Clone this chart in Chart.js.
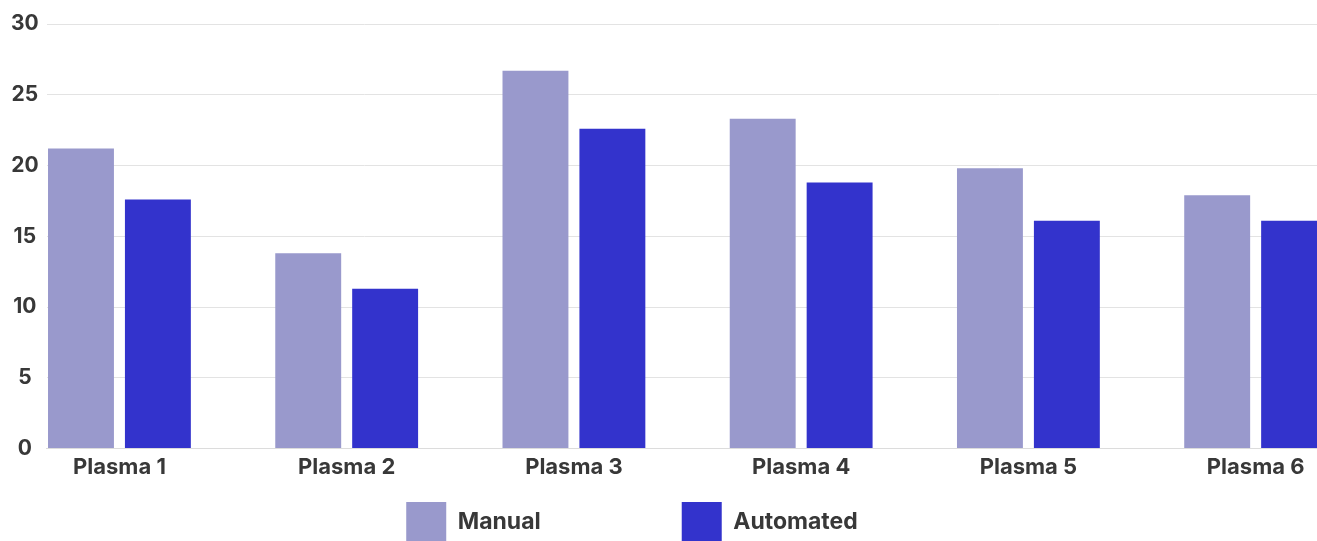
<!DOCTYPE html>
<html>
<head>
  <meta charset="UTF-8">
  <title>Manual vs Automated</title>
  <script src="https://cdn.jsdelivr.net/npm/chart.js"></script>
  <style>
    html, body {
      margin: 0;
      padding: 0;
      background: #ffffff;
      overflow: hidden;
    }

    .chart-box {
      position: relative;
      width: 1317px;
      height: 541px;
    }
  </style>
</head>
<body>

<div class="chart-box">
  <canvas id="plasmaChart"></canvas>
</div>

<script>
  // values
  const categories = ['Plasma 1', 'Plasma 2', 'Plasma 3', 'Plasma 4', 'Plasma 5', 'Plasma 6'];
  const manualValues = [21.2, 13.8, 26.7, 23.3, 19.8, 17.9];
  const automatedValues = [17.6, 11.3, 22.6, 18.8, 16.1, 16.1];
  const yTicks = [0, 5, 10, 15, 20, 25, 30];

  const textColor = '#383838';
  const fontFamily = 'Inter, "Open Sans", sans-serif';

  // the legend sits lower and a bit left of centre in the reference
  const legendShift = {
    id: 'legendShift',
    afterLayout(chart) {
      const lg = chart.legend;
      lg.left -= 28;
      lg.right -= 28;
      lg.top = 502 - lg.options.labels.padding;
    }
  };

  document.addEventListener("DOMContentLoaded", function () {
    const ctx = document.getElementById('plasmaChart').getContext('2d');

    new Chart(ctx, {
      type: 'bar',
      data: {
        datasets: [{
          label: 'Manual',
          data: manualValues.map((v, i) => ({x: i, y: v})),
          backgroundColor: '#9999cc',
          borderWidth: 0
        }, {
          label: 'Automated',
          data: automatedValues.map((v, i) => ({x: i, y: v})),
          backgroundColor: '#3333cc',
          borderWidth: 0
        }]
      },
      options: {
        responsive: true,
        maintainAspectRatio: false,
        animation: false,
        categoryPercentage: 0.677,
        barPercentage: 0.857,
        layout: {
          padding: {left: 3, top: 24, right: 0, bottom: 0}
        },
        scales: {
          x: {
            type: 'linear',
            offset: false,
            min: -0.32,
            max: 5.27,
            grid: {display: false, drawTicks: false, offset: false},
            border: {display: true, color: '#dcdcdc', width: 1},
            ticks: {
              stepSize: 1,
              includeBounds: false,
              padding: 6,
              color: textColor,
              font: {family: fontFamily, size: 22, weight: '700'},
              callback: value => categories[value]
            }
          },
          y: {
            min: 0,
            max: 30,
            afterBuildTicks: axis => { axis.ticks = yTicks.map(v => ({value: v})); },
            grid: {color: '#e3e3e3', drawTicks: false},
            border: {display: false},
            ticks: {
              padding: 8,
              crossAlign: 'center',
              color: textColor,
              font: {family: fontFamily, size: 21, weight: '700'}
            }
          }
        },
        plugins: {
          legend: {
            position: 'bottom',
            maxHeight: 54,
            labels: {
              boxWidth: 40,
              boxHeight: 40,
              padding: 141,
              color: textColor,
              font: {family: fontFamily, size: 23, weight: '700'}
            }
          },
          tooltip: {enabled: true}
        }
      },
      plugins: [legendShift]
    });
  });
</script>

</body>
</html>
